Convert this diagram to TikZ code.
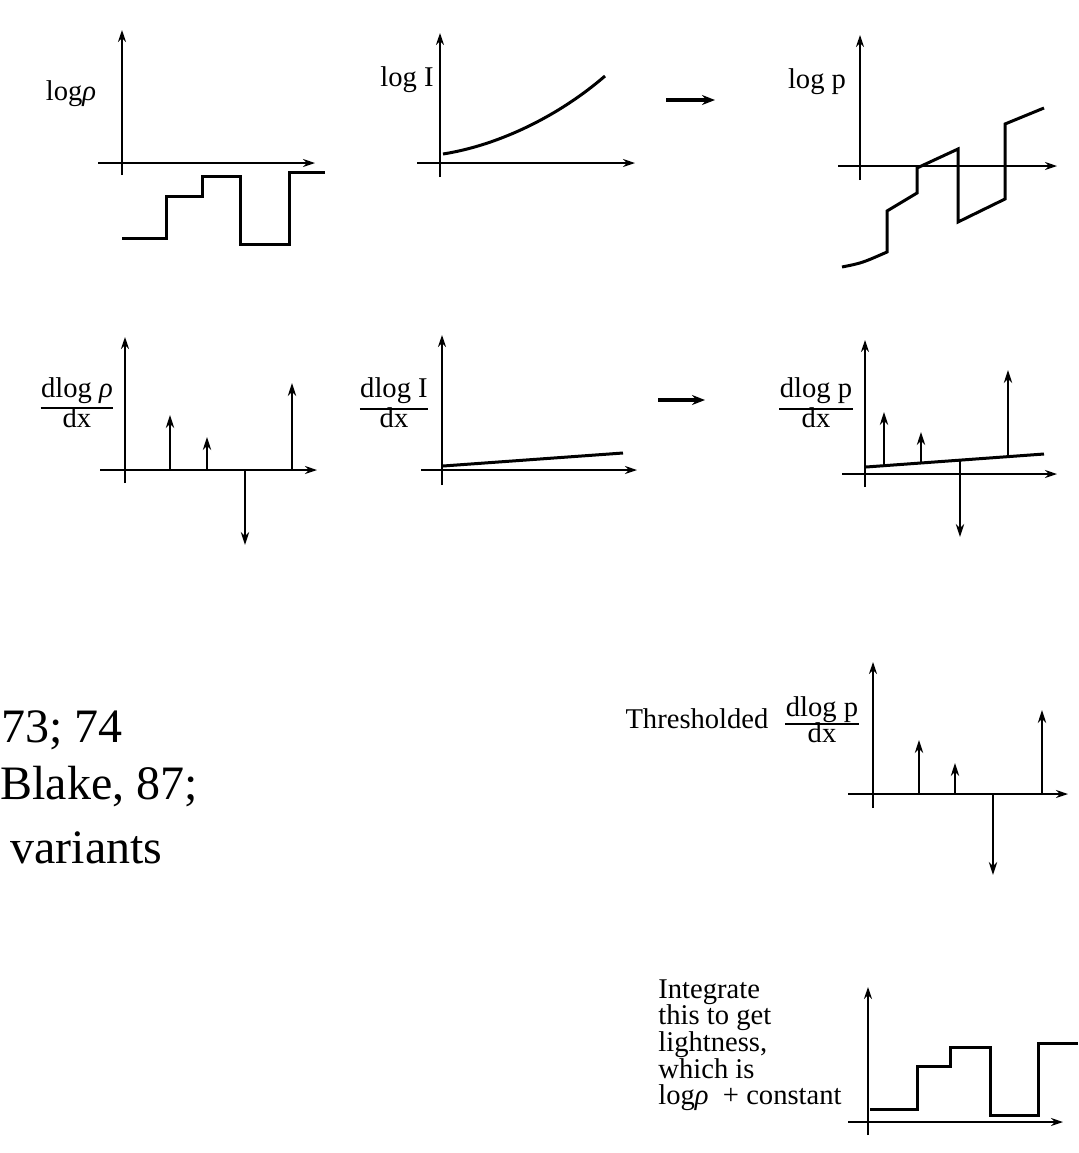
\documentclass[tikz,border=0pt]{standalone}
\usepackage{fontspec}
\setmainfont{Liberation Serif}
\usetikzlibrary{arrows.meta}
\begin{document}
\begin{tikzpicture}[x=0.5pt,y=-0.5pt,
  axis/.style={line width=0.7pt,-{Stealth[length=6pt,width=4pt]}},
  spike/.style={line width=0.7pt,-{Stealth[length=6.5pt,width=4.2pt]}},
  curve/.style={line width=1.5pt,line join=miter},
  flow/.style={line width=1.6pt,-{Stealth[length=6.5pt,width=5pt]}},
  fracbar/.style={line width=0.6pt},
  lbl/.style={inner sep=0pt,font=\fontsize{14.3}{14}\selectfont},
  big/.style={inner sep=0pt,font=\fontsize{24}{28}\selectfont,anchor=base west}]
\useasboundingbox (0,0) rectangle (1078,1153);

% ---------- Panel 1: log rho ----------
\draw[axis] (122,175) -- (122,30);
\draw[axis] (98,163) -- (315,163);
\node[lbl,anchor=base] (l1) at (71,100) {log\textit{ρ}};
\draw[curve] (122,238) -- (166,238) -- (166,196) -- (202,196) -- (202,176)
  -- (240,176) -- (240,244) -- (289,244) -- (289,172) -- (325,172);

% ---------- Panel 2: log I ----------
\draw[axis] (440,177) -- (440,33);
\draw[axis] (417,163) -- (635,163);
\node[lbl,anchor=base] (l2) at (407,86) {log I};
\draw[curve] (443,154) .. controls (500,145) and (560,115) .. (605,76);

% flow arrow 1
\coordinate (f1s) at (666,100);
\coordinate (f1e) at (715,100);
\draw[flow] (f1s) -- (f1e);

% ---------- Panel 3: log p ----------
\draw[axis] (860,180) -- (860,35);
\draw[axis] (838,166) -- (1057,166);
\node[lbl,anchor=base] (l3) at (817,88) {log p};
\draw[curve] (842,267) .. controls (862,263) .. (887,252) -- (887,211) -- (917,193)
  -- (917,168) -- (958,149) -- (958,222) -- (1005,199) -- (1005,124) -- (1044,108);

% ---------- Panel 4: dlog rho / dx ----------
\draw[axis] (125,483) -- (125,337);
\draw[axis] (100,470) -- (317,470);
\node[lbl,anchor=base] (n4) at (77,397) {dlog \textit{ρ}};
\node[lbl,anchor=base] (d4) at (77,427) {dx};
\coordinate (b4) at (0,408);
\draw[fracbar] (n4.west |- b4) -- (n4.east |- b4);
\draw[spike] (170,470) -- (170,415);
\draw[spike] (207,470) -- (207,437);
\draw[spike] (245,470) -- (245,545);
\draw[spike] (292,470) -- (292,383);

% ---------- Panel 5: dlog I / dx ----------
\draw[axis] (442,485) -- (442,335);
\draw[axis] (421,470) -- (637,470);
\node[lbl,anchor=base] (n5) at (394,397) {dlog I};
\node[lbl,anchor=base] (d5) at (394,427) {dx};
\coordinate (b5) at (0,409);
\draw[fracbar] (n5.west |- b5) -- (n5.east |- b5);
\draw[curve] (443,466) -- (623,453);

% flow arrow 2
\coordinate (f2s) at (658,400);
\coordinate (f2e) at (705,400);
\draw[flow] (f2s) -- (f2e);

% ---------- Panel 6: dlog p / dx ----------
\draw[axis] (865,487) -- (865,340);
\draw[axis] (842,474) -- (1057,474);
\node[lbl,anchor=base] (n6) at (816,397) {dlog p};
\node[lbl,anchor=base] (d6) at (816,427) {dx};
\coordinate (b6) at (0,409);
\draw[fracbar] (n6.west |- b6) -- (n6.east |- b6);
\draw[curve] (866,467) -- (1044,454);
\draw[spike] (884,465.7) -- (884,412);
\draw[spike] (921,463) -- (921,432);
\draw[spike] (960,460) -- (960,537);
\draw[spike] (1008,456.6) -- (1008,370);

% ---------- Panel 7: Thresholded ----------
\draw[axis] (873,808) -- (873,662);
\draw[axis] (848,794) -- (1068,794);
\node[lbl,anchor=base] (t7) at (697,728) {Thresholded};
\node[lbl,anchor=base] (n7) at (822,716) {dlog p};
\node[lbl,anchor=base] (d7) at (822,742) {dx};
\coordinate (b7) at (0,724);
\draw[fracbar] (n7.west |- b7) -- (n7.east |- b7);
\draw[spike] (919,794) -- (919,740);
\draw[spike] (955,794) -- (955,763);
\draw[spike] (993,794) -- (993,875);
\draw[spike] (1042,794) -- (1042,710);

% ---------- Panel 8: Integrate ----------
\draw[axis] (868,1135) -- (868,987);
\draw[axis] (848,1122) -- (1063,1122);
\node[lbl,anchor=north west,align=left,font=\fontsize{14.3}{13.35}\selectfont] (t8) at (658,979)
  {Integrate\\this to get\\lightness,\\which is\\log\textit{ρ}\enspace+ constant};
\draw[curve] (870,1109) -- (917,1109) -- (917,1066) -- (950,1066) -- (950,1047)
  -- (990,1047) -- (990,1115) -- (1038,1115) -- (1038,1043) -- (1078,1043);

% ---------- left text fragments ----------
\node[big] (x1) at (1,742) {73; 74};
\node[big] (x2) at (0,799) {Blake, 87;};
\node[big] (x3) at (10,863) {variants};
\end{tikzpicture}
\end{document}
